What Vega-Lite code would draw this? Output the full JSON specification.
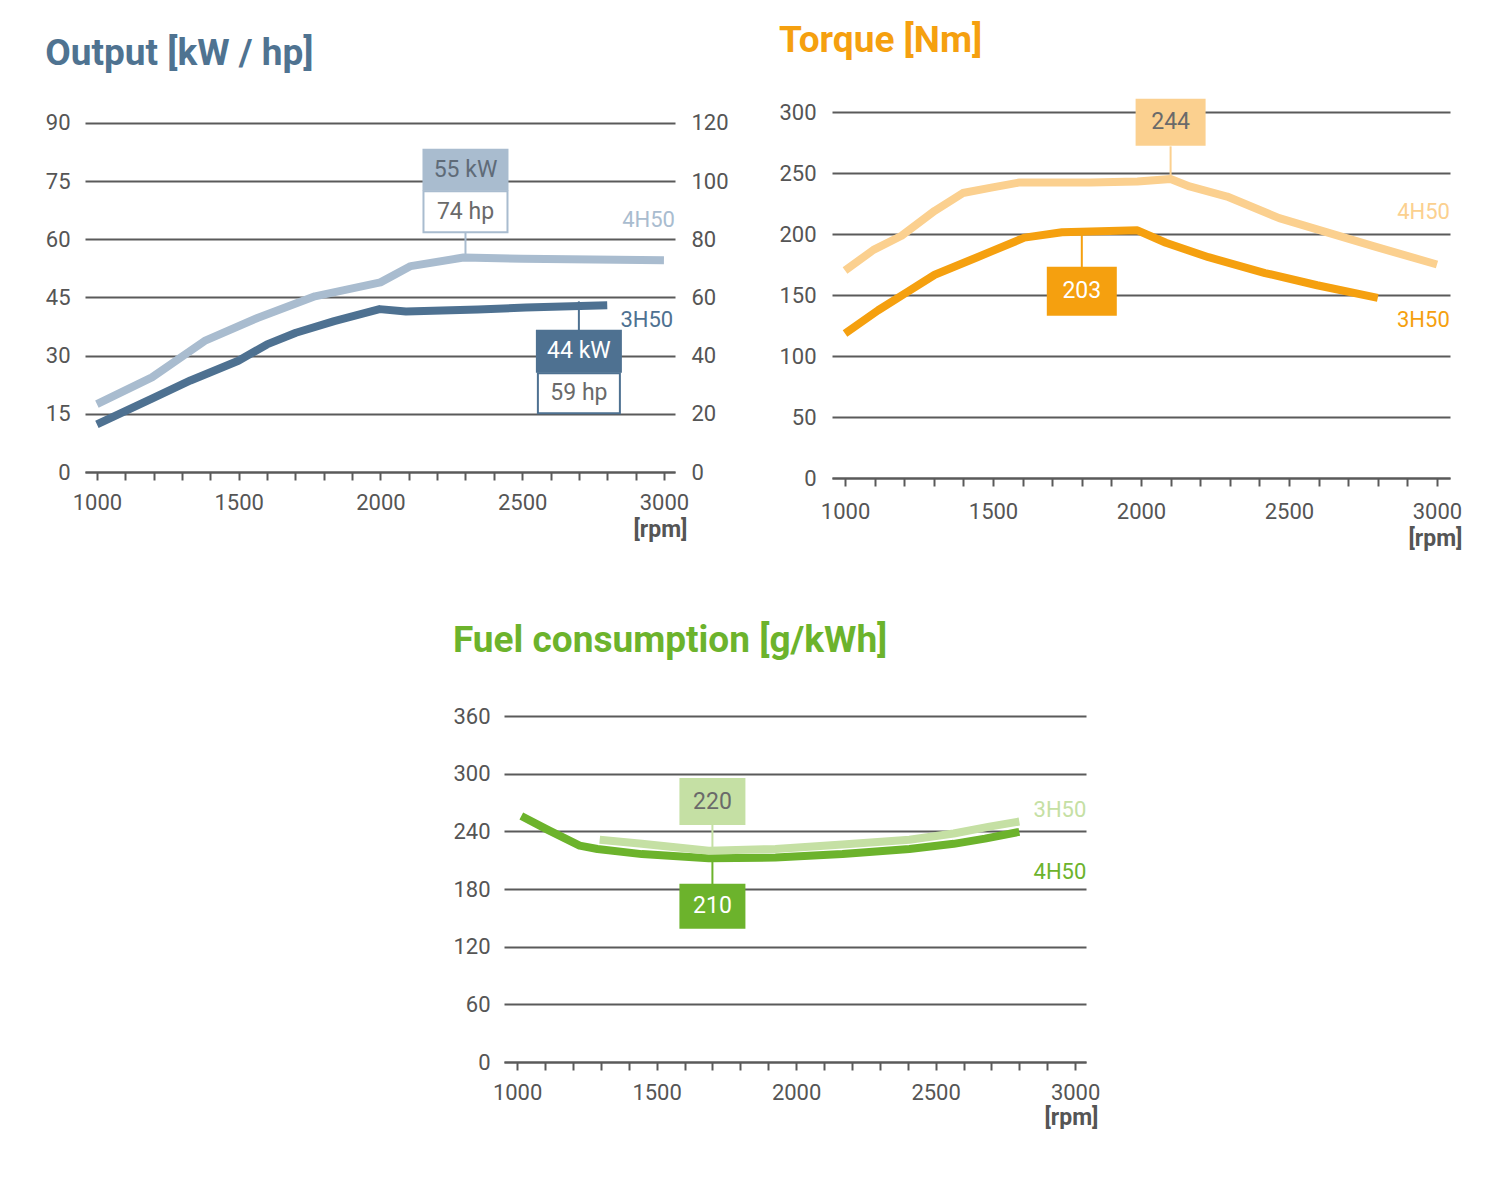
{
  "$schema": "https://vega.github.io/schema/vega-lite/v6.json",
  "background": "white",
  "padding": {"left": 45, "top": 21, "right": 0, "bottom": 0},
  "config": {
    "font": "Roboto",
    "view": {"stroke": null},
    "axis": {
      "labelFontSize": 22,
      "labelColor": "#555555",
      "domainColor": "#5a5a5a",
      "domainWidth": 2,
      "gridColor": "#5a5a5a",
      "gridWidth": 2,
      "tickColor": "#5a5a5a",
      "tickWidth": 2
    },
    "title": {"fontSize": 37, "fontWeight": "bold", "anchor": "start", "frame": "bounds", "baseline": "alphabetic"},
    "text": {"fontSize": 23},
    "line": {"strokeWidth": 8, "strokeCap": "butt", "strokeJoin": "round"}
  },
  "datasets": {
    "output": [
      {"engine": "4H50", "rpm": 1000, "value": 17.5},
      {"engine": "4H50", "rpm": 1194, "value": 24.4},
      {"engine": "4H50", "rpm": 1380, "value": 33.8},
      {"engine": "4H50", "rpm": 1566, "value": 39.7},
      {"engine": "4H50", "rpm": 1769, "value": 45.3},
      {"engine": "4H50", "rpm": 2000, "value": 48.9},
      {"engine": "4H50", "rpm": 2107, "value": 53.1},
      {"engine": "4H50", "rpm": 2293, "value": 55.3},
      {"engine": "4H50", "rpm": 2500, "value": 55.0},
      {"engine": "4H50", "rpm": 3000, "value": 54.6},
      {"engine": "3H50", "rpm": 1000, "value": 12.3},
      {"engine": "3H50", "rpm": 1194, "value": 18.9},
      {"engine": "3H50", "rpm": 1330, "value": 23.6},
      {"engine": "3H50", "rpm": 1499, "value": 28.7},
      {"engine": "3H50", "rpm": 1600, "value": 32.9},
      {"engine": "3H50", "rpm": 1702, "value": 35.9},
      {"engine": "3H50", "rpm": 1837, "value": 38.9},
      {"engine": "3H50", "rpm": 1997, "value": 42.0},
      {"engine": "3H50", "rpm": 2090, "value": 41.4},
      {"engine": "3H50", "rpm": 2344, "value": 41.9},
      {"engine": "3H50", "rpm": 2513, "value": 42.4},
      {"engine": "3H50", "rpm": 2800, "value": 43.0}
    ],
    "outputPeaks": [
      {"engine": "4H50", "rpm": 2300, "value": 55, "hp": 74, "kwText": "55 kW", "hpText": "74 hp"},
      {"engine": "3H50", "rpm": 2700, "value": 44, "hp": 59, "kwText": "44 kW", "hpText": "59 hp"}
    ],
    "torque": [
      {"engine": "4H50", "rpm": 1000, "value": 170},
      {"engine": "4H50", "rpm": 1096, "value": 187},
      {"engine": "4H50", "rpm": 1191, "value": 198.6},
      {"engine": "4H50", "rpm": 1303, "value": 219},
      {"engine": "4H50", "rpm": 1398, "value": 233.6},
      {"engine": "4H50", "rpm": 1494, "value": 238},
      {"engine": "4H50", "rpm": 1590, "value": 242.3},
      {"engine": "4H50", "rpm": 1829, "value": 242.3},
      {"engine": "4H50", "rpm": 1988, "value": 243},
      {"engine": "4H50", "rpm": 2100, "value": 245},
      {"engine": "4H50", "rpm": 2164, "value": 239},
      {"engine": "4H50", "rpm": 2291, "value": 230.7},
      {"engine": "4H50", "rpm": 2467, "value": 213},
      {"engine": "4H50", "rpm": 2626, "value": 201.5},
      {"engine": "4H50", "rpm": 2785, "value": 190},
      {"engine": "4H50", "rpm": 3000, "value": 175},
      {"engine": "3H50", "rpm": 1000, "value": 118.5},
      {"engine": "3H50", "rpm": 1112, "value": 137.5},
      {"engine": "3H50", "rpm": 1207, "value": 152},
      {"engine": "3H50", "rpm": 1303, "value": 166.6},
      {"engine": "3H50", "rpm": 1447, "value": 181},
      {"engine": "3H50", "rpm": 1606, "value": 197},
      {"engine": "3H50", "rpm": 1733, "value": 201.5},
      {"engine": "3H50", "rpm": 1988, "value": 203},
      {"engine": "3H50", "rpm": 2084, "value": 192.8},
      {"engine": "3H50", "rpm": 2228, "value": 181},
      {"engine": "3H50", "rpm": 2419, "value": 168},
      {"engine": "3H50", "rpm": 2595, "value": 158},
      {"engine": "3H50", "rpm": 2800, "value": 147.7}
    ],
    "torquePeaks": [
      {"engine": "4H50", "rpm": 2100, "value": 244, "label": "244"},
      {"engine": "3H50", "rpm": 1800, "value": 203, "label": "203"}
    ],
    "fuel": [
      {"engine": "4H50", "rpm": 1015, "value": 256},
      {"engine": "4H50", "rpm": 1112, "value": 241.3},
      {"engine": "4H50", "rpm": 1224, "value": 225.2},
      {"engine": "4H50", "rpm": 1288, "value": 221.6},
      {"engine": "4H50", "rpm": 1447, "value": 216.3},
      {"engine": "4H50", "rpm": 1687, "value": 212},
      {"engine": "4H50", "rpm": 1926, "value": 212.7},
      {"engine": "4H50", "rpm": 2166, "value": 216.3},
      {"engine": "4H50", "rpm": 2406, "value": 221.6},
      {"engine": "4H50", "rpm": 2565, "value": 227},
      {"engine": "4H50", "rpm": 2677, "value": 232.4},
      {"engine": "4H50", "rpm": 2800, "value": 239.5},
      {"engine": "3H50", "rpm": 1296, "value": 231.3},
      {"engine": "3H50", "rpm": 1447, "value": 227},
      {"engine": "3H50", "rpm": 1687, "value": 219.9},
      {"engine": "3H50", "rpm": 1926, "value": 221.6},
      {"engine": "3H50", "rpm": 2166, "value": 226.3},
      {"engine": "3H50", "rpm": 2406, "value": 231.3},
      {"engine": "3H50", "rpm": 2565, "value": 237.7},
      {"engine": "3H50", "rpm": 2693, "value": 244.9},
      {"engine": "3H50", "rpm": 2800, "value": 250.2}
    ],
    "fuelPeaks": [
      {"engine": "3H50", "rpm": 1700, "value": 220, "label": "220"},
      {"engine": "4H50", "rpm": 1700, "value": 210, "label": "210"}
    ]
  },
  "spacing": 72,
  "resolve": {"scale": {"color": "independent"}},
  "vconcat": [
    {
      "bounds": "flush",
      "spacing": 157,
      "resolve": {"scale": {"color": "independent"}},
      "hconcat": [
        {
          "width": 590,
          "height": 360,
          "title": {"text": "Output [kW / hp]", "color": "#4f7391", "offset": 39},
          "resolve": {"scale": {"y": "independent"}},
          "layer": [
            {
              "encoding": {
                "x": {
                  "field": "rpm", "type": "quantitative",
                  "scale": {"domain": [958, 3039], "nice": false, "zero": false},
                  "axis": {
                    "values": [1000, 1100, 1200, 1300, 1400, 1500, 1600, 1700, 1800, 1900, 2000, 2100, 2200, 2300, 2400, 2500, 2600, 2700, 2800, 2900, 3000],
                    "format": "d",
                    "labelExpr": "datum.value % 500 === 0 ? datum.label : ''",
                    "labelOverlap": false, "labelFlush": false, "labelPadding": 12,
                    "tickSize": 8, "grid": false,
                    "title": "[rpm]", "titleAnchor": "end", "titleAlign": "right", "titleBaseline": "middle",
                    "titleX": 602, "titleY": 57, "titleFontSize": 23, "titleFontWeight": "bold", "titleColor": "#555555",
                    "encode": {"ticks": {"update": {"y": {"signal": "datum.value % 500 === 0 ? -8 : 0"}, "y2": {"signal": "datum.value % 500 === 0 ? 8 : 5"}}}}
                  }
                },
                "y": {
                  "field": "value", "type": "quantitative",
                  "scale": {"domain": [0, 92.83], "nice": false},
                  "axis": {"values": [0, 15, 30, 45, 60, 75, 90], "title": null, "grid": true, "domain": false, "ticks": false, "labelPadding": 15}
                }
              },
              "layer": [
                {
                  "data": {"name": "outputPeaks"},
                  "transform": [{"filter": "datum.engine === '4H50'"}],
                  "mark": {"type": "rule", "color": "#a9bccf", "strokeWidth": 2, "y2Offset": -27},
                  "encoding": {"y2": {"field": "value"}}
                },
                {
                  "data": {"name": "outputPeaks"},
                  "transform": [{"filter": "datum.engine === '3H50'"}],
                  "mark": {"type": "rule", "color": "#4e7191", "strokeWidth": 2, "y2Offset": 29},
                  "encoding": {"y2": {"field": "value"}}
                },
                {
                  "data": {"name": "output"},
                  "mark": {"type": "line"},
                  "encoding": {
                    "color": {"field": "engine", "type": "nominal", "scale": {"domain": ["4H50", "3H50"], "range": ["#a9bccf", "#4e7191"]}, "legend": null}
                  }
                },
                {
                  "data": {"name": "outputPeaks"},
                  "transform": [{"filter": "datum.engine === '4H50'"}],
                  "mark": {"type": "point", "shape": "M-1,-0.488H1V0.488H-1Z", "size": 7396, "filled": true, "fill": "#a9bccf", "opacity": 1, "yOffset": -89}
                },
                {
                  "data": {"name": "outputPeaks"},
                  "transform": [{"filter": "datum.engine === '4H50'"}],
                  "mark": {"type": "text", "dy": -89, "color": "#5f6b78"},
                  "encoding": {"text": {"field": "kwText"}}
                },
                {
                  "data": {"name": "outputPeaks"},
                  "transform": [{"filter": "datum.engine === '4H50'"}],
                  "mark": {"type": "point", "shape": "M-1,-0.488H1V0.488H-1Z", "size": 7056, "filled": true, "fill": "white", "stroke": "#a9bccf", "strokeWidth": 2, "opacity": 1, "yOffset": -47}
                },
                {
                  "data": {"name": "outputPeaks"},
                  "transform": [{"filter": "datum.engine === '4H50'"}],
                  "mark": {"type": "text", "dy": -47, "color": "#6a6a6a"},
                  "encoding": {"text": {"field": "hpText"}}
                },
                {
                  "data": {"name": "outputPeaks"},
                  "transform": [{"filter": "datum.engine === '3H50'"}],
                  "mark": {"type": "point", "shape": "M-1,-0.5H1V0.5H-1Z", "size": 7396, "filled": true, "fill": "#4e7191", "opacity": 1, "yOffset": 50}
                },
                {
                  "data": {"name": "outputPeaks"},
                  "transform": [{"filter": "datum.engine === '3H50'"}],
                  "mark": {"type": "text", "dy": 50, "color": "white"},
                  "encoding": {"text": {"field": "kwText"}}
                },
                {
                  "data": {"name": "outputPeaks"},
                  "transform": [{"filter": "datum.engine === '3H50'"}],
                  "mark": {"type": "point", "shape": "M-1,-0.488H1V0.488H-1Z", "size": 6724, "filled": true, "fill": "white", "stroke": "#4e7191", "strokeWidth": 2, "opacity": 1, "yOffset": 92}
                },
                {
                  "data": {"name": "outputPeaks"},
                  "transform": [{"filter": "datum.engine === '3H50'"}],
                  "mark": {"type": "text", "dy": 92, "color": "#6a6a6a"},
                  "encoding": {"text": {"field": "hpText"}}
                },
                {
                  "data": {"name": "output"},
                  "transform": [{"filter": "datum.engine === '4H50' && datum.rpm === 3000"}],
                  "mark": {"type": "text", "align": "right", "baseline": "middle", "dx": 11, "dy": -40, "fontSize": 22, "color": "#a9bccf"},
                  "encoding": {"text": {"field": "engine"}}
                },
                {
                  "data": {"name": "output"},
                  "transform": [{"filter": "datum.engine === '3H50' && datum.rpm === 2800"}],
                  "mark": {"type": "text", "align": "right", "baseline": "middle", "dx": 66, "dy": 15, "fontSize": 22, "color": "#4e7191"},
                  "encoding": {"text": {"field": "engine"}}
                }
              ]
            },
            {
              "data": {"name": "outputPeaks"},
              "mark": {"type": "point", "opacity": 0},
              "encoding": {
                "y": {
                  "field": "hp", "type": "quantitative",
                  "scale": {"domain": [0, 123.77], "nice": false},
                  "axis": {"orient": "right", "values": [0, 20, 40, 60, 80, 100, 120], "title": null, "grid": false, "domain": false, "ticks": false, "labelPadding": 16}
                }
              }
            }
          ]
        },
        {
          "width": 618,
          "height": 366,
          "title": {"text": "Torque [Nm]", "color": "#f5a00f", "offset": 39},
          "encoding": {
            "x": {
              "field": "rpm", "type": "quantitative",
              "scale": {"domain": [956, 3044], "nice": false, "zero": false},
              "axis": {
                "values": [1000, 1100, 1200, 1300, 1400, 1500, 1600, 1700, 1800, 1900, 2000, 2100, 2200, 2300, 2400, 2500, 2600, 2700, 2800, 2900, 3000],
                "format": "d",
                "labelExpr": "datum.value % 500 === 0 ? datum.label : ''",
                "labelOverlap": false, "labelFlush": false, "labelPadding": 15,
                "tickSize": 8, "grid": false,
                "title": "[rpm]", "titleAnchor": "end", "titleAlign": "right", "titleBaseline": "middle",
                "titleX": 630, "titleY": 60, "titleFontSize": 23, "titleFontWeight": "bold", "titleColor": "#555555",
                "encode": {"ticks": {"update": {"y": {"signal": "datum.value % 500 === 0 ? -8 : 0"}, "y2": {"signal": "datum.value % 500 === 0 ? 8 : 5"}}}}
              }
            },
            "y": {
              "field": "value", "type": "quantitative",
              "scale": {"domain": [0, 300], "nice": false},
              "axis": {"values": [0, 50, 100, 150, 200, 250, 300], "title": null, "grid": true, "domain": false, "ticks": false, "labelPadding": 16}
            }
          },
          "layer": [
            {
              "data": {"name": "torquePeaks"},
              "transform": [{"filter": "datum.engine === '4H50'"}],
              "mark": {"type": "rule", "color": "#fbd08f", "strokeWidth": 2, "y2Offset": -34},
              "encoding": {"y2": {"field": "value"}}
            },
            {
              "data": {"name": "torquePeaks"},
              "transform": [{"filter": "datum.engine === '3H50'"}],
              "mark": {"type": "rule", "color": "#f5a00f", "strokeWidth": 2, "y2Offset": 37},
              "encoding": {"y2": {"field": "value"}}
            },
            {
              "data": {"name": "torque"},
              "mark": {"type": "line"},
              "encoding": {
                "color": {"field": "engine", "type": "nominal", "scale": {"domain": ["4H50", "3H50"], "range": ["#fbd08f", "#f5a00f"]}, "legend": null}
              }
            },
            {
              "data": {"name": "torquePeaks"},
              "transform": [{"filter": "datum.engine === '4H50'"}],
              "mark": {"type": "point", "shape": "M-1,-0.671H1V0.671H-1Z", "size": 4900, "filled": true, "fill": "#fbd08f", "opacity": 1, "yOffset": -58}
            },
            {
              "data": {"name": "torquePeaks"},
              "transform": [{"filter": "datum.engine === '4H50'"}],
              "mark": {"type": "text", "dy": -58, "color": "#6a6a6a"},
              "encoding": {"text": {"field": "label"}}
            },
            {
              "data": {"name": "torquePeaks"},
              "transform": [{"filter": "datum.engine === '3H50'"}],
              "mark": {"type": "point", "shape": "M-1,-0.7H1V0.7H-1Z", "size": 4900, "filled": true, "fill": "#f5a00f", "opacity": 1, "yOffset": 61}
            },
            {
              "data": {"name": "torquePeaks"},
              "transform": [{"filter": "datum.engine === '3H50'"}],
              "mark": {"type": "text", "dy": 61, "color": "white"},
              "encoding": {"text": {"field": "label"}}
            },
            {
              "data": {"name": "torque"},
              "transform": [{"filter": "datum.engine === '4H50' && datum.rpm === 3000"}],
              "mark": {"type": "text", "align": "right", "baseline": "middle", "dx": 13, "dy": -53, "fontSize": 22, "color": "#fbd08f"},
              "encoding": {"text": {"field": "engine"}}
            },
            {
              "data": {"name": "torque"},
              "transform": [{"filter": "datum.engine === '3H50' && datum.rpm === 2800"}],
              "mark": {"type": "text", "align": "right", "baseline": "middle", "dx": 72, "dy": 22, "fontSize": 22, "color": "#f5a00f"},
              "encoding": {"text": {"field": "engine"}}
            }
          ]
        }
      ]
    },
    {
      "bounds": "flush",
      "spacing": 0,
      "hconcat": [
        {
          "width": 419,
          "height": 10,
          "data": {"values": []},
          "mark": "point"
        },
        {
          "width": 582,
          "height": 346,
          "title": {"text": "Fuel consumption [g/kWh]", "color": "#6cb32c", "offset": 45},
          "encoding": {
            "x": {
              "field": "rpm", "type": "quantitative",
              "scale": {"domain": [953, 3039], "nice": false, "zero": false},
              "axis": {
                "values": [1000, 1100, 1200, 1300, 1400, 1500, 1600, 1700, 1800, 1900, 2000, 2100, 2200, 2300, 2400, 2500, 2600, 2700, 2800, 2900, 3000],
                "format": "d",
                "labelExpr": "datum.value % 500 === 0 ? datum.label : ''",
                "labelOverlap": false, "labelFlush": false, "labelPadding": 12,
                "tickSize": 8, "grid": false,
                "title": "[rpm]", "titleAnchor": "end", "titleAlign": "right", "titleBaseline": "middle",
                "titleX": 594, "titleY": 55, "titleFontSize": 23, "titleFontWeight": "bold", "titleColor": "#555555",
                "encode": {"ticks": {"update": {"y": {"signal": "datum.value % 500 === 0 ? -8 : 0"}, "y2": {"signal": "datum.value % 500 === 0 ? 8 : 5"}}}}
              }
            },
            "y": {
              "field": "value", "type": "quantitative",
              "scale": {"domain": [0, 360], "nice": false},
              "axis": {"values": [0, 60, 120, 180, 240, 300, 360], "title": null, "grid": true, "domain": false, "ticks": false, "labelPadding": 14}
            }
          },
          "layer": [
            {
              "data": {"name": "fuelPeaks"},
              "transform": [{"filter": "datum.engine === '3H50'"}],
              "mark": {"type": "rule", "color": "#c5e0a4", "strokeWidth": 2, "y2Offset": -26},
              "encoding": {"y2": {"field": "value"}}
            },
            {
              "data": {"name": "fuelPeaks"},
              "transform": [{"filter": "datum.engine === '4H50'"}],
              "mark": {"type": "rule", "color": "#6cb32c", "strokeWidth": 2, "y2Offset": 24},
              "encoding": {"y2": {"field": "value"}}
            },
            {
              "data": {"name": "fuel"},
              "mark": {"type": "line"},
              "encoding": {
                "color": {"field": "engine", "type": "nominal", "scale": {"domain": ["4H50", "3H50"], "range": ["#6cb32c", "#c5e0a4"]}, "legend": null}
              }
            },
            {
              "data": {"name": "fuelPeaks"},
              "transform": [{"filter": "datum.engine === '3H50'"}],
              "mark": {"type": "point", "shape": "M-1,-0.712H1V0.712H-1Z", "size": 4356, "filled": true, "fill": "#c5e0a4", "opacity": 1, "yOffset": -49}
            },
            {
              "data": {"name": "fuelPeaks"},
              "transform": [{"filter": "datum.engine === '3H50'"}],
              "mark": {"type": "text", "dy": -49, "color": "#6a6a6a"},
              "encoding": {"text": {"field": "label"}}
            },
            {
              "data": {"name": "fuelPeaks"},
              "transform": [{"filter": "datum.engine === '4H50'"}],
              "mark": {"type": "point", "shape": "M-1,-0.682H1V0.682H-1Z", "size": 4356, "filled": true, "fill": "#6cb32c", "opacity": 1, "yOffset": 46}
            },
            {
              "data": {"name": "fuelPeaks"},
              "transform": [{"filter": "datum.engine === '4H50'"}],
              "mark": {"type": "text", "dy": 46, "color": "white"},
              "encoding": {"text": {"field": "label"}}
            },
            {
              "data": {"name": "fuel"},
              "transform": [{"filter": "datum.engine === '3H50' && datum.rpm === 2800"}],
              "mark": {"type": "text", "align": "right", "baseline": "middle", "dx": 67, "dy": -12, "fontSize": 22, "color": "#c5e0a4"},
              "encoding": {"text": {"field": "engine"}}
            },
            {
              "data": {"name": "fuel"},
              "transform": [{"filter": "datum.engine === '4H50' && datum.rpm === 2800"}],
              "mark": {"type": "text", "align": "right", "baseline": "middle", "dx": 67, "dy": 40, "fontSize": 22, "color": "#6cb32c"},
              "encoding": {"text": {"field": "engine"}}
            }
          ]
        }
      ]
    }
  ]
}
